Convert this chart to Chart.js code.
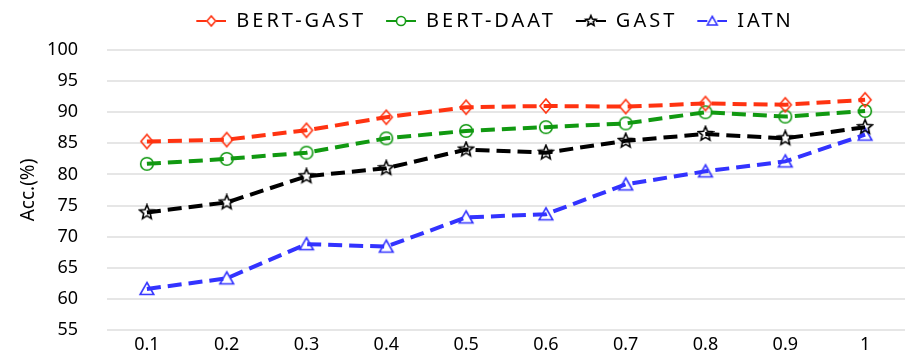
<!DOCTYPE html>
<html>
<head>
<meta charset="utf-8">
<script src="https://cdn.jsdelivr.net/npm/chart.js@4"></script>
<style>
  html, body { margin: 0; padding: 0; background: #fff; overflow: hidden; }
  canvas { display: block; }
</style>
</head>
<body>
<canvas id="chart" width="917" height="355"></canvas>
<script>
const ratios = ['0.1', '0.2', '0.3', '0.4', '0.5', '0.6', '0.7', '0.8', '0.9', '1'];
const bertGast = [85.3, 85.6, 87.1, 89.2, 90.8, 91.0, 90.9, 91.4, 91.2, 92.0];
const bertDaat = [81.7, 82.5, 83.5, 85.8, 87.0, 87.6, 88.2, 90.0, 89.3, 90.2];
const gast = [73.9, 75.5, 79.7, 81.0, 84.0, 83.5, 85.4, 86.5, 85.8, 87.6];
const iatn = [61.6, 63.3, 68.8, 68.4, 73.1, 73.6, 78.4, 80.5, 82.1, 86.4];

const RED = '#ff3311';
const GREEN = '#119911';
const BLACK = '#000000';
const BLUE = '#3333ff';

// draws one hollow marker centred at cx, cy; s scales it
function drawMarker(ctx, shape, cx, cy, color, s) {
    ctx.strokeStyle = color;
    ctx.lineWidth = 1.6;
    ctx.beginPath();
    if (shape === 'diamond') {
        ctx.moveTo(cx, cy - 7 * s); ctx.lineTo(cx + 6 * s, cy); ctx.lineTo(cx, cy + 7 * s); ctx.lineTo(cx - 6 * s, cy); ctx.closePath();
    } else if (shape === 'circle') {
        ctx.arc(cx, cy, 6.3 * s, 0, Math.PI * 2);
    } else if (shape === 'triangle') {
        ctx.moveTo(cx, cy - 6.5 * s); ctx.lineTo(cx + 6.8 * s, cy + 5.5 * s); ctx.lineTo(cx - 6.8 * s, cy + 5.5 * s); ctx.closePath();
    } else if (shape === 'star') {
        for (let i = 0; i < 10; i++) {
            const r = (i % 2 === 0 ? 7.5 : 3.4) * s;
            const a = -Math.PI / 2 + i * Math.PI / 5;
            const px = cx + r * Math.cos(a), py = cy + r * Math.sin(a);
            if (i === 0) ctx.moveTo(px, py); else ctx.lineTo(px, py);
        }
        ctx.closePath();
    }
    ctx.stroke();
}

function pointCanvas(shape, color) {
    const c = document.createElement('canvas');
    c.width = 18;
    c.height = 18;
    drawMarker(c.getContext('2d'), shape, 9, 9, color, 1);
    return c;
}

// legend sample: blank lead-in, short line, small marker in the middle
function legendCanvas(shape, color) {
    const lead = 12;
    const c = document.createElement('canvas');
    c.width = lead + 30;
    c.height = 16;
    const ctx = c.getContext('2d');
    ctx.strokeStyle = color;
    ctx.lineWidth = 2;
    ctx.beginPath();
    ctx.moveTo(lead, 8); ctx.lineTo(lead + 30, 8);
    ctx.stroke();
    ctx.clearRect(lead + 10, 3, 10, 10);
    drawMarker(ctx, shape, lead + 15, 8, color, 0.72);
    return c;
}

const series = [
    { label: 'BERT-GAST', data: bertGast, color: RED, shape: 'diamond' },
    { label: 'BERT-DAAT', data: bertDaat, color: GREEN, shape: 'circle' },
    { label: 'GAST', data: gast, color: BLACK, shape: 'star' },
    { label: 'IATN', data: iatn, color: BLUE, shape: 'triangle' },
];

const datasets = series.map((s) => ({
    label: s.label,
    data: s.data,
    borderColor: s.color,
    backgroundColor: 'rgba(0,0,0,0)',
    borderWidth: 4,
    borderDash: [14, 7],
    pointStyle: pointCanvas(s.shape, s.color),
    pointRadius: 8,
    legendImage: legendCanvas(s.shape, s.color),
    tension: 0,
}));

Chart.defaults.font.family = '"Noto Sans", "DejaVu Sans", sans-serif';
Chart.defaults.color = '#000';

const chart = new Chart(document.getElementById('chart'), {
    type: 'line',
    data: { labels: ratios, datasets },
    options: {
        responsive: false,
        animation: false,
        devicePixelRatio: 1,
        layout: { padding: { top: 3, right: 5, left: 14, bottom: 0 } },
        plugins: {
            legend: {
                position: 'top',
                labels: {
                    usePointStyle: true,
                    pointStyleWidth: 42,
                    padding: 8,
                    font: { size: 20 },
                    generateLabels(chart) {
                        return chart.data.datasets.map((ds, i) => ({
                            text: ds.label,
                            pointStyle: ds.legendImage,
                            strokeStyle: ds.borderColor,
                            fillStyle: 'rgba(0,0,0,0)',
                            lineWidth: 0,
                            datasetIndex: i,
                            hidden: false,
                        }));
                    },
                },
            },
            tooltip: { enabled: false },
        },
        scales: {
            x: {
                offset: true,
                grid: { display: false, drawTicks: false },
                border: { display: false },
                ticks: { font: { size: 18 }, padding: 4 },
                afterFit(scale) { scale.height = 25; },
            },
            y: {
                min: 55,
                max: 100,
                ticks: { stepSize: 5, font: { size: 18 }, padding: 29 },
                grid: { color: '#e6e6e6', lineWidth: 2, drawTicks: false },
                border: { display: false },
                title: { display: true, text: 'Acc.(%)', font: { size: 19 }, padding: { top: 3, bottom: 7 } },
                afterFit(scale) {
                    scale.width = 93;
                    // the wide tick padding also pads top/bottom; keep only half a label there
                    scale.paddingTop = 11;
                    scale.paddingBottom = 11;
                },
            },
        },
    },
});

// the legend text in the picture is set wide, so spread its letters
const legend = chart.legend;
const origFit = legend.fit;
const origDraw = legend.draw;
legend.fit = function (...args) {
    const ctx = this.ctx;
    ctx.letterSpacing = '3px';
    const out = origFit.apply(this, args);
    ctx.letterSpacing = '0px';
    this.height += 9;
    return out;
};
legend.draw = function (...args) {
    const ctx = this.ctx;
    ctx.save();
    ctx.letterSpacing = '3px';
    ctx.translate(26, 0);
    const out = origDraw.apply(this, args);
    ctx.restore();
    return out;
};
chart.update();
</script>
</body>
</html>
